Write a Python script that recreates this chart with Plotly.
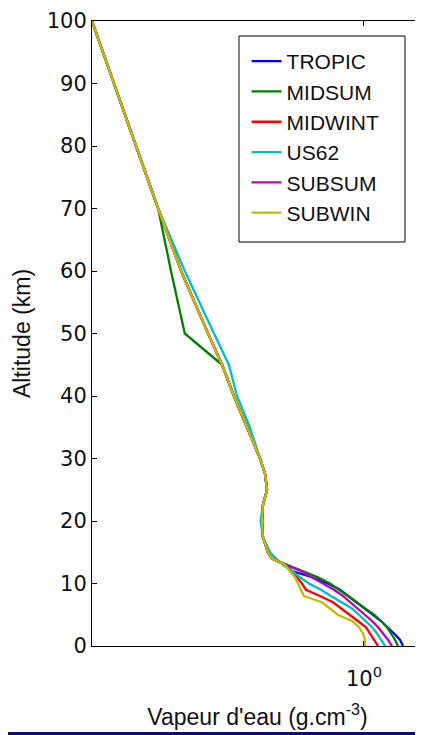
import plotly.graph_objects as go

# Altitude grid (km)
altitude = [0, 1, 2, 3, 4, 5, 6, 7, 8, 9, 10, 11, 12, 13, 14, 15, 17.5, 20, 22.5,
            25, 27.5, 30, 35, 40, 45, 50, 60, 70, 80, 90, 100]

# Water vapour profiles
tropic = [1.363, 1.331, 1.269, 1.210, 1.145, 1.074, 1.008, 0.938, 0.881, 0.827, 0.751,
          0.662, 0.565, 0.534, 0.482, 0.466, 0.448, 0.445, 0.448, 0.463, 0.456, 0.438,
          0.395, 0.356, 0.324, 0.290, 0.234, 0.195, 0.1636, 0.137, 0.1153]
midsum = [1.310, 1.279, 1.239, 1.200, 1.145, 1.083, 1.008, 0.946, 0.881, 0.820, 0.763,
          0.694, 0.611, 0.543, 0.482, 0.466, 0.448, 0.445, 0.448, 0.463, 0.456, 0.438,
          0.395, 0.356, 0.324, 0.241, 0.216, 0.195, 0.1636, 0.137, 0.1153]
midwint = [1.118, 1.083, 1.049, 1.016, 0.953, 0.895, 0.840, 0.782, 0.705, 0.631, 0.611,
           0.587, 0.565, 0.534, 0.482, 0.466, 0.448, 0.445, 0.448, 0.463, 0.456, 0.438,
           0.395, 0.356, 0.324, 0.290, 0.234, 0.195, 0.1636, 0.137, 0.1153]
us62 = [1.182, 1.145, 1.109, 1.066, 1.016, 0.961, 0.909, 0.833, 0.769, 0.711, 0.646,
        0.601, 0.565, 0.526, 0.497, 0.474, 0.448, 0.440, 0.448, 0.463, 0.456, 0.438,
        0.404, 0.365, 0.342, 0.304, 0.241, 0.195, 0.1636, 0.137, 0.1153]
subsum = [1.249, 1.210, 1.163, 1.118, 1.066, 1.008, 0.953, 0.895, 0.846, 0.788, 0.722,
          0.662, 0.606, 0.534, 0.482, 0.466, 0.448, 0.445, 0.448, 0.463, 0.456, 0.438,
          0.395, 0.356, 0.324, 0.290, 0.234, 0.195, 0.1636, 0.137, 0.1153]
subwin = [1.008, 1.008, 0.992, 0.961, 0.909, 0.813, 0.763, 0.716, 0.621, 0.606, 0.592,
          0.578, 0.555, 0.534, 0.482, 0.466, 0.448, 0.445, 0.448, 0.463, 0.456, 0.438,
          0.395, 0.356, 0.324, 0.290, 0.234, 0.195, 0.1636, 0.137, 0.1153]

series_names = ["TROPIC", "MIDSUM", "MIDWINT", "US62", "SUBSUM", "SUBWIN"]
series_values = [tropic, midsum, midwint, us62, subsum, subwin]
series_colors = ["#0000FF", "#008000", "#FF0000", "#00BFBF", "#BF00BF", "#BFBF00"]

y_ticks = list(range(0, 101, 10))
x_tickvals = [1]
x_ticktext = ["10<sup>0</sup>"]

TICK_FONT = dict(family="DejaVu Sans, sans-serif", size=21, color="#111111")
TEXT_FONT = dict(family="Liberation Sans, Arial, sans-serif", size=23, color="#111111")
LEG_FONT = dict(family="Liberation Sans, Arial, sans-serif", size=21, color="#111111")

fig = go.Figure()
for name, vals, col in zip(series_names, series_values, series_colors):
    fig.add_trace(go.Scatter(x=vals, y=altitude, mode="lines", name=name,
                             line=dict(color=col, width=2.3)))

# the page body adds an 8px offset, so the figure is 8px smaller than the window
fig.update_layout(
    width=415, height=727,
    margin=dict(l=84, r=0, t=13, b=89, autoexpand=False),
    paper_bgcolor="white", plot_bgcolor="white",
    font=TEXT_FONT,
    showlegend=True,
    legend=dict(x=0.467, y=0.968, xanchor="left", yanchor="top",
                borderwidth=0, bgcolor="rgba(0,0,0,0)", font=LEG_FONT),
    xaxis=dict(type="log", range=[-0.938, 0.2035], tickvals=x_tickvals,
               ticktext=x_ticktext, ticks="inside", ticklen=5, tickcolor="black",
               tickfont=TICK_FONT, ticklabelstandoff=14,
               showline=True, linecolor="black", linewidth=1, mirror="ticks",
               showgrid=False, zeroline=False, automargin=False,
               title=dict(text="Vapeur d'eau (g.cm<sup>-3</sup>)", standoff=18,
                          font=TEXT_FONT)),
    yaxis=dict(range=[0, 100], tickvals=y_ticks, ticks="inside", ticklen=5,
               tickcolor="black", tickfont=TICK_FONT,
               showline=True, linecolor="black", linewidth=1,
               mirror="ticks", showgrid=False, zeroline=False, automargin=False,
               title=dict(text="Altitude (km)", standoff=9, font=TEXT_FONT)),
    shapes=[
        dict(type="rect", xref="paper", yref="paper", x0=0.4441, x1=0.9456,
             y0=0.6464, y1=0.976, line=dict(color="black", width=1),
             fillcolor="rgba(0,0,0,0)", layer="above"),
        dict(type="rect", xref="paper", yref="paper", x0=-0.4, x1=1.1,
             y0=-0.1376, y1=-0.16, fillcolor="#0b0b73", line=dict(width=0),
             layer="above"),
    ],
)

fig.write_html("out.html")
